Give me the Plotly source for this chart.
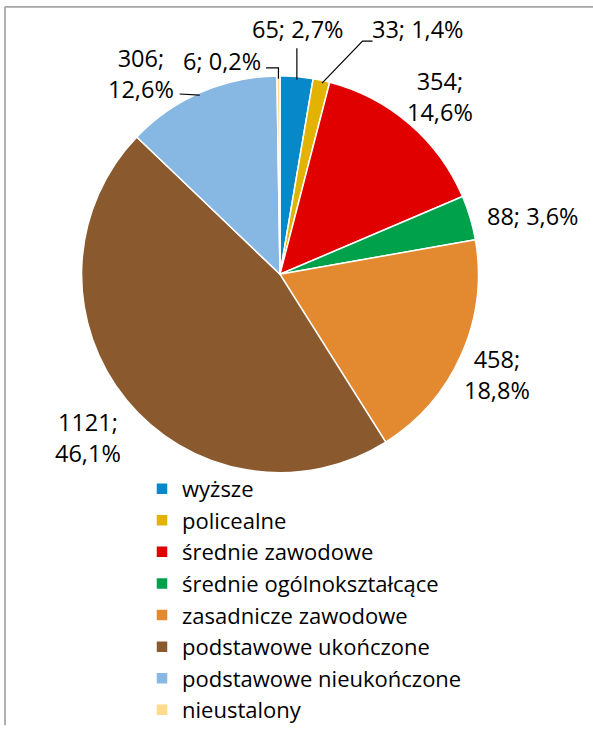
import math
import plotly.graph_objects as go

# ---- data ----
categories = ["wyższe", "policealne", "średnie zawodowe", "średnie ogólnokształcące",
              "zasadnicze zawodowe", "podstawowe ukończone", "podstawowe nieukończone",
              "nieustalony"]
values = [65, 33, 354, 88, 458, 1121, 306, 6]
pct_labels = ["2,7%", "1,4%", "14,6%", "3,6%", "18,8%", "46,1%", "12,6%", "0,2%"]
two_line = [False, False, True, False, True, True, True, False]
colors = ["#0788C8", "#E2B300", "#E00000", "#00A14B", "#E38A30", "#8A5A2E", "#86B8E3", "#FFD98C"]

# ---- layout geometry (pixels) ----
W, H = 593, 731
CX, CY, R = 280, 282, 201
DOMAIN_PAD = 3
FONT = "'Open Sans', 'Noto Sans', sans-serif"
LABEL_K = 1.25
nudges = [(-3, -2), (85, -6), (-4, 8), (12, 12), (-13, 1), (3, 9), (-39, 24), (-56, 32)]

def px2paper(x, y):
    return x / W, 1 - y / H

RD = R + DOMAIN_PAD
fig = go.Figure()
fig.add_trace(go.Pie(
    labels=categories, values=values, sort=False, direction="clockwise", rotation=0,
    marker=dict(colors=colors, line=dict(color="white", width=1.5)),
    textinfo="none", hoverinfo="label+value+percent",
    domain=dict(x=[(CX - RD) / W, (CX + RD) / W], y=[1 - (CY + RD) / H, 1 - (CY - RD) / H]),
))

total = sum(values)
cum = 0
annotations = []
shapes = []
for i, v in enumerate(values):
    mid = (cum + v / 2) / total * 2 * math.pi
    cum += v
    sx, sy = math.sin(mid), -math.cos(mid)
    lx = CX + R * LABEL_K * sx + nudges[i][0]
    ly = CY + R * LABEL_K * sy + nudges[i][1]
    sep = ";<br>" if two_line[i] else "; "
    text = f"{values[i]}{sep}{pct_labels[i]}"
    px_, py_ = px2paper(lx, ly)
    annotations.append(dict(x=px_, y=py_, xref="paper", yref="paper", text=text,
                            showarrow=False, xanchor="center", yanchor="middle",
                            font=dict(family=FONT, size=23.5, color="black")))
    ex, ey = CX + R * sx, CY + R * sy
    pts = None
    if i == 0:
        pts = [(ex, ey), (ex, ly + 20)]
    elif i == 1:
        pts = [(ex, ey), (lx - 55, ly + 12), (lx - 45, ly + 12)]
    elif i == 7:
        pts = [(ex, ey), (ex, ly + 7), (lx + 44, ly + 7)]
    elif i == 6:
        pts = [(ex, ey), (lx + 39, ly + 21)]
    if pts:
        path = "M " + " L ".join(f"{px2paper(x, y)[0]:.5f},{px2paper(x, y)[1]:.5f}" for x, y in pts)
        shapes.append(dict(type="path", path=path, xref="paper", yref="paper",
                           line=dict(color="black", width=1.2)))

# chart area border (top and left visible)
shapes.append(dict(type="line", xref="paper", yref="paper", x0=5 / W, x1=1.02, y0=1 - 7 / H, y1=1 - 7 / H,
                   line=dict(color="#A6A6A6", width=1.8)))
shapes.append(dict(type="line", xref="paper", yref="paper", x0=5 / W, x1=5 / W, y0=1 - 7 / H, y1=-0.02,
                   line=dict(color="#A6A6A6", width=1.8)))

fig.update_layout(
    width=W, height=H, margin=dict(l=0, r=0, t=0, b=0),
    paper_bgcolor="white", plot_bgcolor="white",
    annotations=annotations, shapes=shapes,
    showlegend=True,
    legend=dict(x=142 / W, y=1 - 481 / H, xanchor="left", yanchor="top",
                font=dict(family=FONT, size=22, color="black"),
                bgcolor="rgba(0,0,0,0)", tracegroupgap=0),
)
fig.write_html("out.html", config={"displayModeBar": False},
               post_script="document.body.style.margin='0';document.body.style.padding='0';")
